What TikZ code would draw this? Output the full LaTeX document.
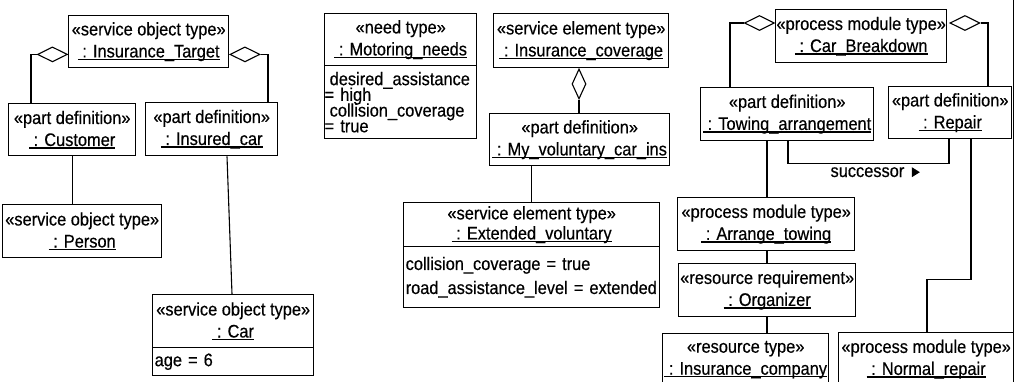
\documentclass[tikz,border=0pt]{standalone}
\usepackage{fontspec}
\setmainfont{Liberation Sans}[FakeStretch=0.9, FakeBold=0.4]
\usetikzlibrary{shapes.geometric,calc}

% underlined instance name, rule at a fixed depth below the baseline
\newcommand\ulname[1]{\setbox0\hbox{#1}\rlap{\rule[-2.6pt]{\wd0}{1.1pt}}\box0}
% let lines sit closer than their glyphs would allow
\newcommand\tightlines{\lineskiplimit=-30pt\relax}

\tikzset{
  hdr/.style n args={2}{draw, line width=1.4pt, anchor=north west,
    minimum width=#1, minimum height=#2, inner sep=0pt, align=center,
    font=\fontsize{18.2pt}{22pt}\selectfont},
  attr/.style={draw, line width=1.4pt, anchor=north west, inner xsep=2pt,
    inner ysep=0pt, align=left, font=\fontsize{18.2pt}{24pt}\selectfont},
  dmd/.style={draw, diamond, fill=white, inner sep=0pt, line width=1.1pt,
    minimum width=30pt, minimum height=15pt},
  conn/.style={line width=1.1pt},
  lbl/.style={inner sep=0pt, font=\fontsize{18.2pt}{20pt}\selectfont}
}

\begin{document}
\begin{tikzpicture}[x=1pt, y=-1pt, conn]
\useasboundingbox (0,0) rectangle (1016,381);
\clip (0,0) rectangle (1016,381);

% --- insurance target with its parts
\node[hdr={160pt}{52pt}] (tgt) at (68,15) {«service object type»\\\ulname{\ : Insurance\_Target}};
\node[hdr={127pt}{52pt}] (cust) at (8,103) {«part definition»\\\ulname{\ : Customer}};
\node[hdr={132pt}{53pt}] (inscar) at (145,102) {«part definition»\\\ulname{\ : Insured\_car}};
\node[hdr={159pt}{53pt}] (person) at (2,204) {«service object type»\\\ulname{\ : Person}};
\node[hdr={161pt}{53pt}] (car) at (152,294) {«service object type»\\\ulname{\ : Car}};
\node[attr, minimum width=161pt, text width=157pt, minimum height=28pt] (carattr) at (152,347) {\mbox{age = 6}};

\node[dmd, anchor=east] (dtl) at ($(tgt.south west)+(0,-14)$) {};
\node[dmd, anchor=west] (dtr) at ($(tgt.south east)+(0,-14)$) {};
\draw (dtl.west) -| ($(cust.north west)+(23,0)$);
\draw (dtr.east) -| ($(inscar.north west)+(123,0)$);
\draw (cust.south) -- (cust.south |- person.north);
\draw ($(inscar.south west)+(82,0)$) -- ($(car.north west)+(80,0)$);

% --- need type
\node[hdr={152pt}{52pt}] (motor) at (324,13) {«need type»\\\ulname{\ : Motoring\_needs}};
\node[attr, inner xsep=5pt, minimum width=152pt, text width=142pt, minimum height=73pt,
      font=\fontsize{18.2pt}{15.7pt}\selectfont\tightlines] (motorattr) at (324,65)
  {\mbox{desired\_assistance}\\\hspace*{-5pt}= high\\\mbox{collision\_coverage}\\\hspace*{-5pt}= true};

% --- insurance coverage
\node[hdr={175pt}{54pt}] (icov) at (493,13) {«service element type»\\\ulname{\ : Insurance\_coverage}};
\node[hdr={180pt}{52pt}] (myvol) at (489,113) {«part definition»\\\ulname{\ : My\_voluntary\_car\_ins}};
\node[hdr={256pt}{44pt}, font=\fontsize{18.2pt}{20pt}\selectfont] (extvol) at (403,202)
  {«service element type»\\\ulname{\ : Extended\_voluntary}};
\node[attr, minimum width=256pt, text width=252pt, minimum height=61pt] (extattr) at (403,246)
  {\mbox{collision\_coverage = true}\\\mbox{road\_assistance\_level = extended}};

\node[dmd, minimum width=14pt, minimum height=30pt, anchor=north] (dv) at ($(icov.south west)+(86,0)$) {};
\draw (dv.south) -- (dv.south |- myvol.north);
\draw (extvol.north |- myvol.south) -- (extvol.north);

% --- car breakdown process
\node[hdr={171pt}{53pt}] (brk) at (775,9) {«process module type»\\\ulname{\ : Car\_Breakdown}};
\node[hdr={173pt}{53pt}] (tow) at (700,87) {«part definition»\\\ulname{\ : Towing\_arrangement}};
\node[hdr={123pt}{52pt}] (rep) at (888,86) {«part definition»\\\ulname{\ : Repair}};
\node[hdr={177pt}{53pt}] (arr) at (677,197) {«process module type»\\\ulname{\ : Arrange\_towing}};
\node[hdr={177pt}{53pt}] (org) at (678,263) {«resource requirement»\\\ulname{\ : Organizer}};
\node[hdr={166pt}{52pt}] (insco) at (662,333) {«resource type»\\\ulname{\ : Insurance\_company}};
\node[hdr={175pt}{53pt}] (nrep) at (838,332) {«process module type»\\\ulname{\ : Normal\_repair}};

\node[dmd, anchor=east] (dbl) at ($(brk.north west)+(0,14)$) {};
\node[dmd, anchor=west] (dbr) at ($(brk.north east)+(2,14)$) {};
\draw (dbl.west) -| ($(tow.north west)+(30,0)$);
\draw (dbr.east) -| ($(rep.north west)+(100,0)$);

\draw ($(tow.south west)+(88,0)$) -- ++(0,22) -| ($(rep.south west)+(61,0)$);
\node[lbl, anchor=base west] (succ) at (830,177) {successor};
\fill ($(succ.east)+(7,-5)$) -- ++(8,5) -- ++(-8,5) -- cycle;

\coordinate (tx) at ($(tow.south west)+(67,0)$);
\draw (tx) -- (tx |- arr.north);
\draw (tx |- arr.south) -- (tx |- org.north);
\draw (tx |- org.south) -- (tx |- insco.north);

\draw ($(rep.south west)+(83,0)$) -- ++(0,140) -| ($(nrep.north west)+(89,0)$);

% right frame edge
\coordinate (ftop) at (1013.5,0);
\coordinate (fbot) at (1013.5,381);
\draw[line width=1.4pt] (ftop) -- (fbot);
\end{tikzpicture}
\end{document}
